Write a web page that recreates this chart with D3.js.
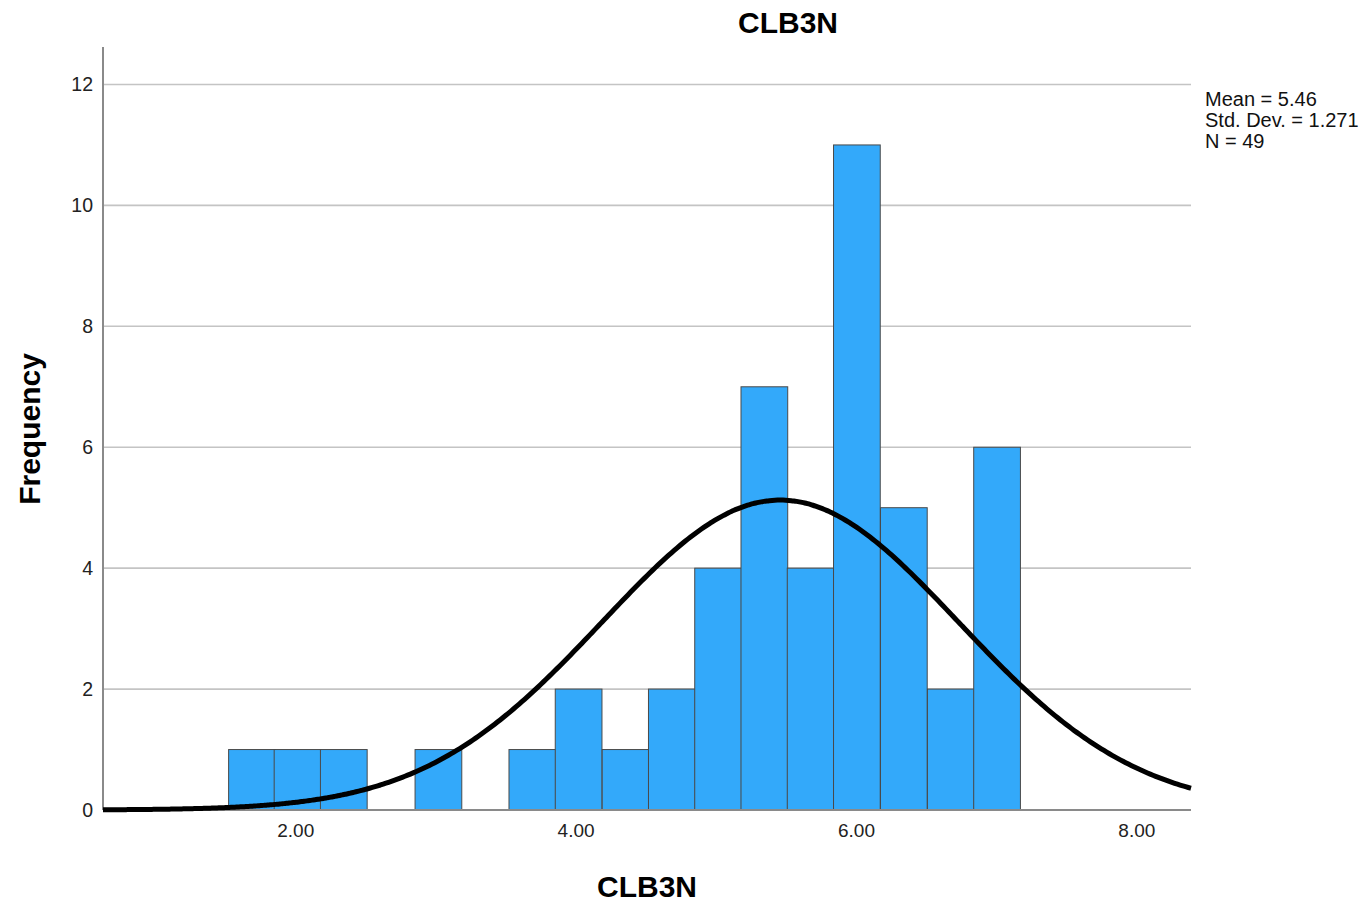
<!DOCTYPE html>
<html>
<head>
<meta charset="utf-8">
<script src="https://cdn.jsdelivr.net/npm/d3@7"></script>
<style>
  html, body { margin: 0; padding: 0; background: #fff; }
  svg { display: block; font-family: "Liberation Sans", Arial, sans-serif; }
</style>
</head>
<body>
<svg id="chart" width="1363" height="902"></svg>
<script>
// ---- data ----
const binStarts = [1.525, 1.85, 2.18, 2.855, 3.525, 3.855, 4.19, 4.52, 4.85, 5.18, 5.51, 5.84, 6.175, 6.51, 6.84];
const binWidth = 0.3333;
const counts    = [1, 1, 1, 1, 1, 2, 1, 2, 4, 7, 4, 11, 5, 2, 6];
const xTicks = [2, 4, 6, 8];
const yTicks = [0, 2, 4, 6, 8, 10, 12];
const statMean = 5.46;
const statSD = 1.271;
const statN = 49;
const statLines = ["Mean = 5.46", "Std. Dev. = 1.271", "N = 49"];
const titleText = "CLB3N";
const xLabel = "CLB3N";
const yLabel = "Frequency";

// ---- layout ----
const svg = d3.select("#chart");
const x = d3.scaleLinear().domain([0.629, 8.39]).range([103, 1191]);
const y = d3.scaleLinear().domain([0, 12.62]).range([810, 47]);

// gridlines
svg.append("g").selectAll("line").data(yTicks.filter(d => d > 0)).join("line")
  .attr("x1", x.range()[0]).attr("x2", x.range()[1])
  .attr("y1", d => y(d)).attr("y2", d => y(d))
  .attr("stroke", "#c4c4c4").attr("stroke-width", 1.6);

// bars
svg.append("g").selectAll("rect").data(binStarts.map((s, i) => ({s, c: counts[i]}))).join("rect")
  .attr("x", d => x(d.s))
  .attr("width", d => x(d.s + binWidth) - x(d.s))
  .attr("y", d => y(d.c))
  .attr("height", d => y(0) - y(d.c))
  .attr("fill", "#33a9fa")
  .attr("stroke", "#4a4a4a").attr("stroke-width", 1);

// axes
const xAxis = d3.axisBottom(x).tickValues(xTicks).tickFormat(d3.format(".2f")).tickSize(0).tickPadding(14);
const gx = svg.append("g").attr("transform", `translate(0,${y(0)})`).call(xAxis);
gx.select(".domain").attr("stroke", "#8a8a8a").attr("stroke-width", 2)
  .attr("d", `M${x.range()[0]},0H${x.range()[1]}`);
gx.selectAll("text").attr("font-size", 19).attr("fill", "#222")
  .attr("font-family", "Liberation Sans, Arial, sans-serif");

const yAxis = d3.axisLeft(y).tickValues(yTicks).tickFormat(d3.format("d")).tickSize(0).tickPadding(10);
const gy = svg.append("g").attr("transform", `translate(${x.range()[0]},0)`).call(yAxis);
gy.select(".domain").attr("stroke", "#8a8a8a").attr("stroke-width", 2)
  .attr("d", `M0,${y.range()[0]}V${y.range()[1]}`);
gy.selectAll("text").attr("font-size", 19.5).attr("fill", "#222")
  .attr("font-family", "Liberation Sans, Arial, sans-serif");

// normal curve
const scaleFactor = statN * binWidth;
const xs = d3.range(0, 401).map(i => x.domain()[0] + (x.domain()[1] - x.domain()[0]) * i / 400);
const pdf = v => Math.exp(-0.5 * Math.pow((v - statMean) / statSD, 2)) / (statSD * Math.sqrt(2 * Math.PI));
const line = d3.line().x(d => x(d)).y(d => y(scaleFactor * pdf(d))).curve(d3.curveBasis);
svg.append("path").datum(xs).attr("d", line)
  .attr("fill", "none").attr("stroke", "#000").attr("stroke-width", 5);

// stats text
svg.append("g").selectAll("text").data(statLines).join("text")
  .attr("x", 1205).attr("y", (d, i) => 106 + i * 21)
  .attr("font-size", 20).attr("fill", "#111").text(d => d);

// title
svg.append("text").attr("x", 788).attr("y", 33).attr("text-anchor", "middle")
  .attr("font-size", 30).attr("font-weight", "bold").text(titleText);

// x label
svg.append("text").attr("x", 647).attr("y", 897).attr("text-anchor", "middle")
  .attr("font-size", 30).attr("font-weight", "bold").text(xLabel);

// y label
svg.append("text").attr("transform", "translate(40,429) rotate(-90)").attr("text-anchor", "middle")
  .attr("font-size", 30).attr("font-weight", "bold").text(yLabel);
</script>
</body>
</html>
